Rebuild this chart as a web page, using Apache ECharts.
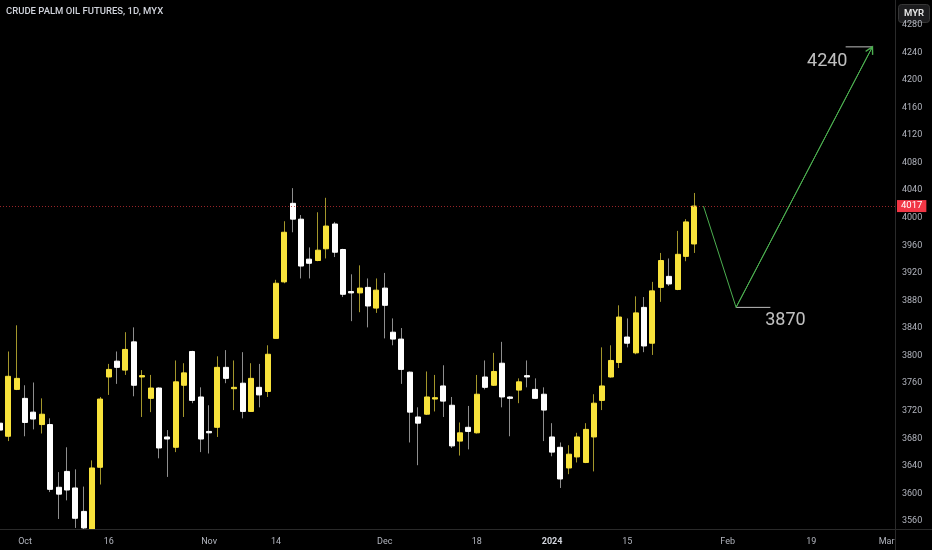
<!DOCTYPE html>
<html>
<head>
<meta charset="utf-8">
<script src="https://cdn.jsdelivr.net/npm/echarts@6/dist/echarts.min.js"></script>
<style>
html,body{margin:0;padding:0;background:#000;}
#chart{width:932px;height:550px;}
</style>
</head>
<body>
<div id="chart"></div>
<script>
// ---- data ----
const dates = [
 '2023-09-26','2023-09-27','2023-09-29','2023-10-02','2023-10-03','2023-10-04','2023-10-05','2023-10-06','2023-10-09','2023-10-10',
 '2023-10-11','2023-10-12','2023-10-13','2023-10-16','2023-10-17','2023-10-18','2023-10-19','2023-10-20','2023-10-23','2023-10-24',
 '2023-10-25','2023-10-26','2023-10-27','2023-10-30','2023-10-31','2023-11-01','2023-11-02','2023-11-03','2023-11-06','2023-11-07',
 '2023-11-08','2023-11-09','2023-11-10','2023-11-14','2023-11-15','2023-11-16','2023-11-17','2023-11-20','2023-11-21','2023-11-22',
 '2023-11-23','2023-11-24','2023-11-27','2023-11-28','2023-11-29','2023-11-30','2023-12-01','2023-12-04','2023-12-05','2023-12-06',
 '2023-12-07','2023-12-08','2023-12-11','2023-12-12','2023-12-13','2023-12-14','2023-12-15','2023-12-18','2023-12-19','2023-12-20',
 '2023-12-21','2023-12-22','2023-12-26','2023-12-27','2023-12-28','2023-12-29','2024-01-02','2024-01-03','2024-01-04','2024-01-05',
 '2024-01-08','2024-01-09','2024-01-10','2024-01-11','2024-01-12','2024-01-15','2024-01-16','2024-01-17','2024-01-18','2024-01-19',
 '2024-01-22','2024-01-23','2024-01-24','2024-01-26'
];
const opens = [3702,3683,3751,3738,3718,3700,3700,3609,3632,3608, 3574,3538,3638,3769,3792,3779,3820,3769,3738,3753,
 3682,3667,3757,3806,3740,3690,3696,3783,3752,3760, 3719,3754,3748,3825,3907,4021,3998,3940,3938,3955,
 3991,3954,3893,3891,3899,3869,3898,3834,3824,3776, 3711,3715,3737,3756,3728,3676,3696,3688,3769,3757,
 3789,3740,3750,3771,3751,3744,3682,3667,3637,3653, 3645,3682,3735,3769,3790,3827,3804,3870,3818,3899,
 3915,3896,3944,3962];
const closes = [3692,3770,3767,3703,3708,3715,3606,3599,3605,3564, 3550,3637,3737,3780,3783,3809,3757,3771,3753,3666,
 3679,3762,3775,3735,3679,3688,3783,3767,3754,3719, 3767,3743,3802,3905,3979,3998,3930,3934,3953,3988,
 3950,3889,3891,3898,3872,3895,3873,3824,3780,3718, 3702,3740,3739,3734,3669,3688,3690,3744,3754,3777,
 3740,3738,3762,3769,3738,3721,3660,3621,3657,3682, 3693,3731,3756,3793,3856,3818,3862,3814,3894,3938,
 3904,3947,3994,4017];
const lows = [3683,3676,3750,3683,3693,3687,3602,3563,3590,3550, 3540,3530,3613,3743,3759,3772,3741,3711,3718,3651,
 3624,3660,3711,3731,3660,3658,3682,3760,3721,3709, 3719,3725,3740,3825,3905,3979,3912,3912,3937,3941,
 3943,3885,3850,3863,3841,3862,3825,3815,3759,3674, 3641,3714,3719,3711,3666,3655,3664,3687,3751,3756,
 3725,3683,3731,3754,3737,3676,3654,3608,3628,3645, 3644,3632,3721,3768,3782,3812,3802,3805,3801,3878,
 3901,3895,3937,3949];
const highs = [3709,3806,3844,3757,3761,3738,3709,3631,3667,3635, 3610,3648,3740,3788,3806,3834,3841,3779,3772,3754,
 3692,3793,3789,3807,3754,3728,3799,3808,3793,3805, 3789,3788,3815,3910,3995,4043,4004,3957,4008,4029,
 3994,3955,3918,3931,3912,3912,3920,3854,3840,3777, 3725,3777,3772,3786,3740,3703,3727,3772,3793,3804,
 3820,3741,3767,3793,3767,3754,3702,3674,3670,3688, 3702,3744,3812,3815,3873,3854,3886,3885,3907,3949,
 3941,3981,3998,4036];
const futureSlots = 24;
const xTickIndex = [3,13,25,33,46,57,66,75,87,97,106];
const xTickText = ['Oct','16','Nov','14','Dec','18','2024','15','Feb','19','Mar'];
const yTickValues = [3560,3600,3640,3680,3720,3760,3800,3840,3880,3920,3960,4000,4040,4080,4120,4160,4200,4240,4280];
const yMin = 3547, yMax = 4316;
const lastPrice = 4017;
// projection drawing (x in bar-index units)
const pathX = [84.1, 88.0, 104.3];
const pathY = [4017, 3870, 4248];
const lowLevelX = [88.0, 92.1], lowLevelY = 3870;
const highLevelX = [101.1, 104.3], highLevelY = 4248;
const noteText = ['3870', '4240'];
const noteX = [93.9, 98.9];
const noteY = [3851, 4227];
const titleText = 'CRUDE PALM OIL FUTURES, 1D, MYX';
const currencyText = 'MYR';

// ---- build ----
const categories = dates.slice();
for (let i = 0; i < futureSlots; i++) categories.push('future-' + (i + 1));
const nCat = categories.length;

const wickData = opens.map((o, i) => [o, closes[i], lows[i], highs[i]]);
const bodyData = opens.map((o, i) => [o, closes[i], Math.min(o, closes[i]), Math.max(o, closes[i])]);

const YELLOW = '#f8e23b';
const WHITE = '#ffffff';

const chart = echarts.init(document.getElementById('chart'), null, {renderer: 'canvas'});
chart.setOption({
  animation: false,
  backgroundColor: '#000000',
  title: {
    text: titleText, left: 6, top: 7, padding: 0,
    textStyle: {color: '#d1d4dc', fontSize: 9.5, fontWeight: 500, fontFamily: 'Roboto'}
  },
  grid: {left: 0, right: 37, top: 0, bottom: 20, containLabel: false, outerBoundsMode: 'none'},
  xAxis: [{
    type: 'category', data: categories, boundaryGap: false, z: 60,
    axisLine: {show: false}, axisTick: {show: false}, splitLine: {show: false},
    axisLabel: {
      interval: (idx) => xTickIndex.includes(idx),
      formatter: (val, idx) => {
        const k = xTickIndex.indexOf(idx);
        if (k < 0) return '';
        return xTickText[k] === '2024' ? '{b|' + xTickText[k] + '}' : xTickText[k];
      },
      color: '#b2b5be', fontSize: 9, fontFamily: 'Roboto', margin: 7,
      rich: {b: {fontWeight: 'bold', color: '#d1d4dc', fontSize: 9, fontFamily: 'Roboto'}}
    }
  }, {
    type: 'value', min: 0, max: nCat - 1, show: false
  }],
  yAxis: {
    type: 'value', position: 'right', min: yMin, max: yMax, scale: true, z: 60,
    axisLine: {show: false}, axisTick: {show: false}, splitLine: {show: false},
    axisLabel: {
      customValues: yTickValues, formatter: (v) => String(v),
      color: '#b2b5be', fontSize: 9, fontFamily: 'Roboto', margin: 7, align: 'left'
    }
  },
  series: [{
    type: 'candlestick', name: 'wick', data: wickData, barWidth: 1, z: 2, clip: true,
    itemStyle: {color: '#a3962b', color0: '#8e8e8e', borderColor: '#a3962b', borderColor0: '#8e8e8e', borderWidth: 1}
  }, {
    type: 'candlestick', name: 'body', data: bodyData, barWidth: 5.5, z: 3, clip: true,
    itemStyle: {color: YELLOW, color0: WHITE, borderColor: YELLOW, borderColor0: WHITE, borderWidth: 1},
    markLine: {
      silent: true, symbol: ['none', 'none'],
      lineStyle: {color: 'rgba(190,45,50,0.8)', type: [1, 2], width: 1},
      label: {
        show: true, position: 'end', distance: 2,
        formatter: String(lastPrice), color: '#ffffff', backgroundColor: '#f23645',
        fontSize: 9.5, fontFamily: 'Roboto', padding: [1, 4, 1, 4]
      },
      data: [{yAxis: lastPrice}]
    }
  }, {
    type: 'line', name: 'projection', xAxisIndex: 1, z: 5, symbol: 'none',
    data: pathX.map((x, i) => [x, pathY[i]]),
    lineStyle: {color: '#4caf50', width: 1},
    markLine: {
      silent: true,
      symbol: ['none', 'path://M5,0 L10,9 L8.8,10 L5,3.4 L1.2,10 L0,9 Z'],
      symbolSize: [9, 9], symbolOffset: [0, [0, 3]],
      lineStyle: {color: '#4caf50', width: 1, type: 'solid'},
      label: {show: false},
      data: [[{coord: [pathX[1], pathY[1]]}, {coord: [pathX[2], pathY[2]]}]]
    }
  }, {
    type: 'line', name: 'low level', xAxisIndex: 1, z: 4, symbol: 'none',
    data: lowLevelX.map(x => [x, lowLevelY]),
    lineStyle: {color: '#bdbdbd', width: 1}
  }, {
    type: 'line', name: 'high level', xAxisIndex: 1, z: 4, symbol: 'none',
    data: highLevelX.map(x => [x, highLevelY]),
    lineStyle: {color: '#bdbdbd', width: 1}
  }, {
    type: 'scatter', name: 'notes', xAxisIndex: 1, z: 6, symbolSize: 0,
    data: noteX.map((x, i) => [x, noteY[i]]),
    itemStyle: {color: 'transparent'},
    label: {
      show: true, position: 'inside', formatter: (p) => noteText[p.dataIndex],
      color: '#f0f0f0', fontSize: 18, fontFamily: 'Roboto'
    }
  }],
  graphic: [
    {type: 'rect', shape: {x: 0, y: 530, width: 895, height: 20}, style: {fill: '#000000'}, z: 50, silent: true},
    {type: 'line', shape: {x1: 895.5, y1: 0, x2: 895.5, y2: 550}, style: {stroke: '#2a2a2a', lineWidth: 1}, z: 51, silent: true},
    {type: 'line', shape: {x1: 0, y1: 529.5, x2: 932, y2: 529.5}, style: {stroke: '#2a2a2a', lineWidth: 1}, z: 51, silent: true},
    {type: 'group', left: 898, top: 4, z: 100, children: [
      {type: 'rect', shape: {x: 0, y: 0, width: 31, height: 18, r: 3}, style: {fill: '#1c1c1e', stroke: '#363636', lineWidth: 1}},
      {type: 'text', x: 15.5, y: 9, style: {text: currencyText, fill: '#e6e6e6', fontSize: 9.5, fontWeight: 600, fontFamily: 'Roboto', align: 'center', verticalAlign: 'middle'}}
    ]}
  ]
});
</script>
</body>
</html>
